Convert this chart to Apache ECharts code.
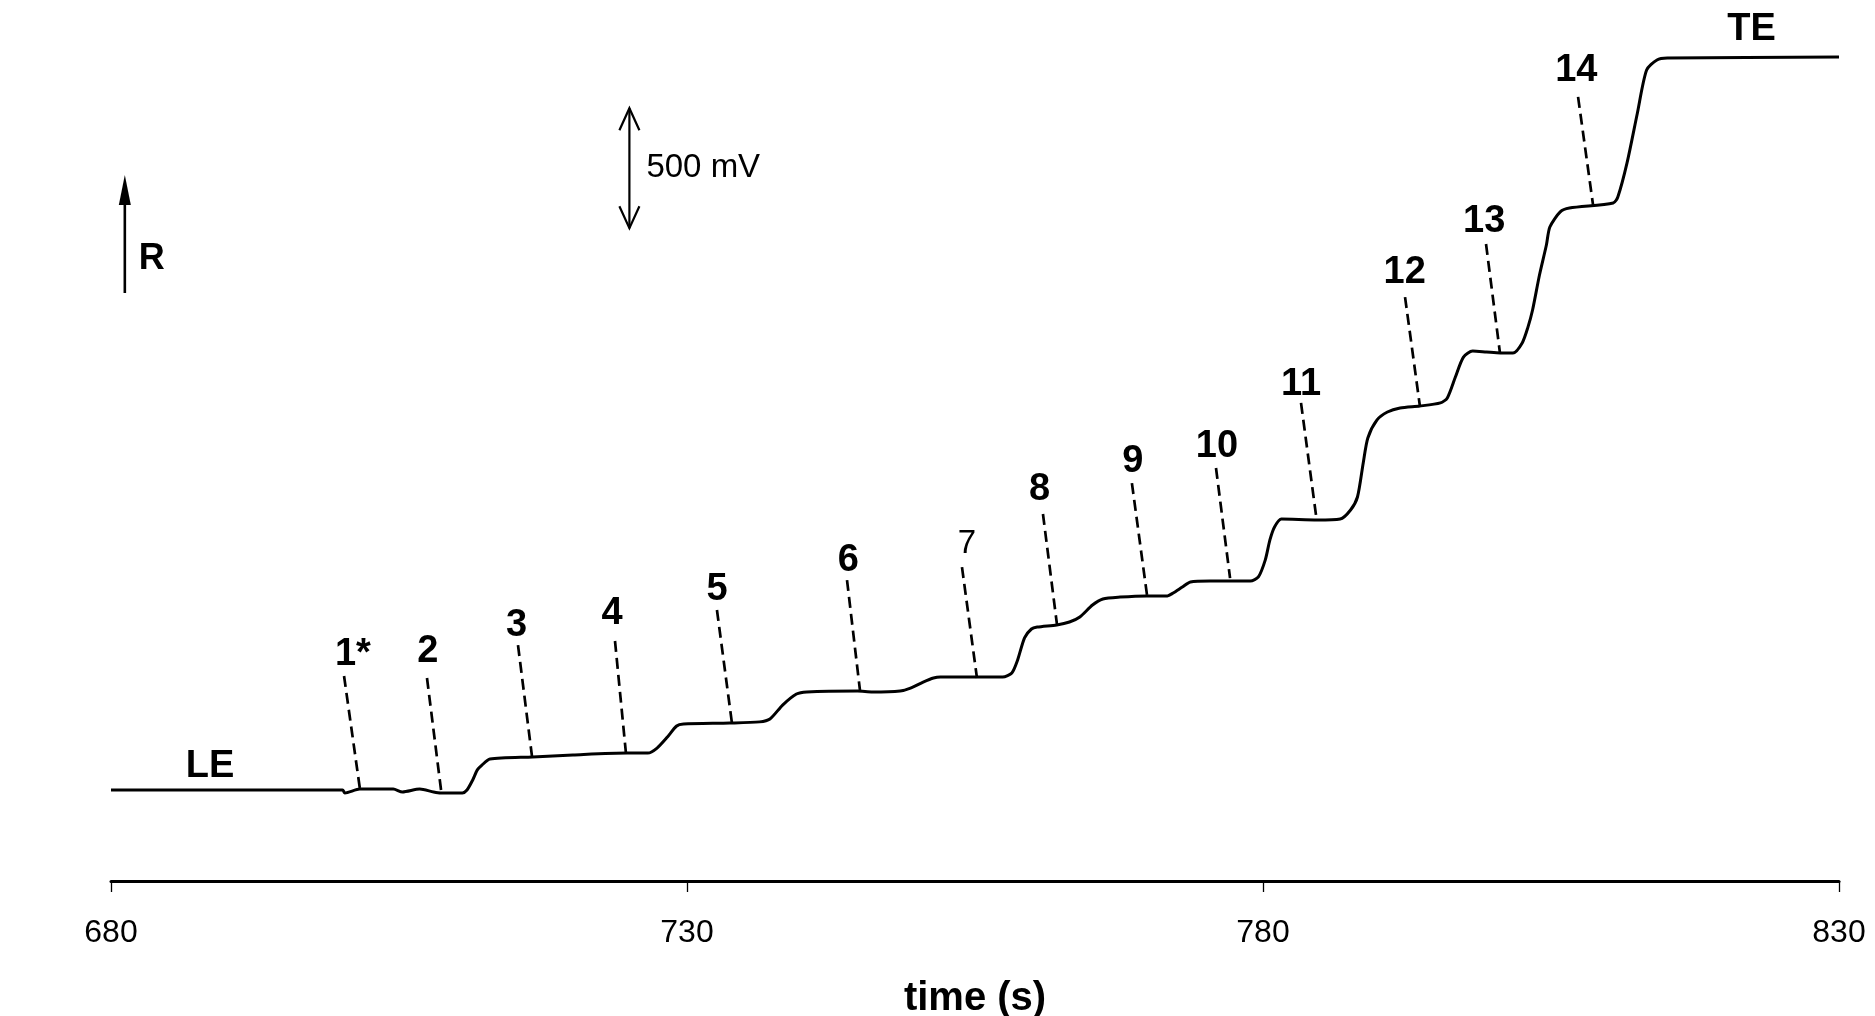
<!DOCTYPE html>
<html>
<head>
<meta charset="utf-8">
<script src="https://cdn.jsdelivr.net/npm/echarts@6/dist/echarts.min.js"></script>
<style>
html,body{margin:0;padding:0;background:#fff;}
#chart{width:1875px;height:1016px;}
</style>
</head>
<body>
<div id="chart"></div>
<script>
// ---- data (time in s, detector signal in mV, arbitrary offset) ----
const timeData = [680, 700.1, 700.3, 701.6, 704.5, 705.3, 706.8, 708.0, 708.6, 710.5, 710.9, 711.4, 711.8, 712.2, 712.9, 716.6, 720.1, 724.8, 726.6, 727.4, 728.3, 729.1, 729.7, 733.7, 736.3, 737.2, 738.3, 739.5, 740.4, 744.8, 746.1, 748.5, 749.4, 750.5, 751.4, 752.0, 757.4, 758.2, 758.7, 759.3, 759.9, 760.4, 762.1, 763.2, 764.1, 765.2, 766.1, 767.6, 769.9, 771.7, 772.2, 773.0, 773.7, 775.4, 778.9, 779.6, 780.2, 780.6, 781.0, 781.6, 784.7, 786.7, 787.6, 788.2, 788.7, 789.1, 789.9, 790.8, 791.9, 793.6, 795.4, 796.0, 796.7, 797.4, 798.2, 799.4, 800.6, 801.7, 802.5, 803.0, 803.4, 804.0, 804.6, 804.9, 805.8, 806.6, 810.4, 810.8, 811.6, 812.5, 813.3, 814.2, 815.1, 830];
const signalData = [379, 379, 367, 383, 383, 371, 383, 371, 367, 367, 379, 421, 463, 483, 508, 517, 525, 533, 533, 554, 600, 646, 654, 658, 663, 675, 733, 779, 788, 792, 788, 792, 804, 829, 846, 850, 850, 867, 921, 1013, 1050, 1058, 1067, 1079, 1100, 1150, 1175, 1183, 1188, 1188, 1200, 1225, 1246, 1250, 1250, 1267, 1338, 1421, 1475, 1508, 1504, 1508, 1546, 1600, 1742, 1846, 1921, 1954, 1971, 1979, 1992, 2013, 2100, 2183, 2208, 2204, 2200, 2200, 2242, 2308, 2379, 2525, 2650, 2725, 2788, 2804, 2825, 2850, 2992, 3200, 3379, 3421, 3429, 3433];

const zoneNames = ['1*', '2', '3', '4', '5', '6', '7', '8', '9', '10', '11', '12', '13', '14'];
const labelTime = [701.0, 707.5, 715.2, 723.5, 732.6, 744.0, 754.3, 760.6, 768.7, 776.0, 783.3, 792.3, 799.2, 807.2];
const labelSignal = [942, 955, 1063, 1113, 1213, 1334, 1405, 1630, 1746, 1809, 2067, 2534, 2746, 3376];
const leaderTopTime = [700.23, 707.43, 715.33, 723.75, 732.60, 743.89, 753.87, 760.90, 768.62, 775.92, 783.30, 792.33, 799.36, 807.35];
const leaderTopSignal = [854, 846, 983, 1000, 1129, 1254, 1308, 1529, 1658, 1721, 1992, 2433, 2654, 3267];
const leaderBottomTime = [701.61, 708.65, 716.55, 724.70, 733.89, 745.02, 755.17, 762.12, 769.93, 777.14, 784.60, 793.63, 800.57, 808.65];
const leaderBottomSignal = [383, 379, 517, 533, 662, 792, 846, 1067, 1192, 1262, 1525, 1975, 2200, 2817];

const electrolyteNames = ['LE', 'TE'];
const electrolyteTime = [688.6, 822.4];
const electrolyteSignal = [475, 3548];

const xTicks = [680, 730, 780, 830];
const scaleBarTime = 725.0, scaleBarFrom = 2720, scaleBarTo = 3220; // 500 mV
const rArrowTime = 681.2, rArrowFrom = 2450, rArrowTo = 2942;

// ---- chart ----
const FONT = 'Liberation Sans, Arial, sans-serif';
const chart = echarts.init(document.getElementById('chart'), null, {renderer: 'canvas'});

const trace = timeData.map((t, i) => [t, signalData[i]]);
const leaders = zoneNames.map((n, i) => ({
  coords: [[leaderTopTime[i], leaderTopSignal[i]], [leaderBottomTime[i], leaderBottomSignal[i]]]
}));
const textItems = zoneNames.map((n, i) => [labelTime[i], labelSignal[i], n])
  .concat(electrolyteNames.map((n, i) => [electrolyteTime[i], electrolyteSignal[i], n]));

chart.setOption({
  animation: false,
  backgroundColor: '#fff',
  grid: {left: 111, right: 36, top: 17, bottom: 135, outerBoundsMode: 'none', containLabel: false},
  xAxis: {
    type: 'value', min: xTicks[0], max: xTicks[xTicks.length - 1], interval: 50,
    name: 'time (s)', nameLocation: 'middle', nameGap: 98,
    nameTextStyle: {fontFamily: FONT, fontSize: 40, fontWeight: 'bold', color: '#000'},
    axisLine: {lineStyle: {color: '#000', width: 3}},
    axisTick: {show: true, inside: false, length: 11, lineStyle: {color: '#000', width: 1.3}},
    axisLabel: {fontFamily: FONT, fontSize: 32, color: '#000', margin: 36},
    splitLine: {show: false}
  },
  yAxis: {type: 'value', min: 0, max: 3600, show: false},
  series: [
    {
      type: 'line', data: trace, showSymbol: false, symbol: 'none',
      smooth: 0.25,
      lineStyle: {color: '#000', width: 3}, z: 3
    },
    {
      type: 'lines', coordinateSystem: 'cartesian2d', data: leaders,
      lineStyle: {color: '#000', width: 2.7, type: [11, 6], opacity: 1}, z: 2
    },
    {
      type: 'custom', data: textItems, z: 4,
      encode: {x: 0, y: 1},
      renderItem: function (params, api) {
        const p = api.coord([api.value(0), api.value(1)]);
        const txt = textItems[params.dataIndex][2];
        const plain = txt === '7';
        return {
          type: 'text', x: p[0], y: p[1],
          style: {
            text: txt, fill: '#000', align: 'center', verticalAlign: 'middle',
            fontFamily: FONT, fontSize: plain ? 33 : 38, fontWeight: plain ? 'normal' : 'bold'
          }
        };
      }
    }
  ]
});

// ---- annotation arrows placed through the chart's own scales ----
const sTop = chart.convertToPixel({gridIndex: 0}, [scaleBarTime, scaleBarTo]);
const sBot = chart.convertToPixel({gridIndex: 0}, [scaleBarTime, scaleBarFrom]);
const rTop = chart.convertToPixel({gridIndex: 0}, [rArrowTime, rArrowTo]);
const rBot = chart.convertToPixel({gridIndex: 0}, [rArrowTime, rArrowFrom]);
const lineStyle = {stroke: '#000', lineWidth: 2.2, fill: null};
const hw = 10, hl = 22;
chart.setOption({
  graphic: [
    {type: 'line', shape: {x1: sTop[0], y1: sTop[1], x2: sBot[0], y2: sBot[1]}, style: lineStyle},
    {type: 'polyline', shape: {points: [[sTop[0] - hw, sTop[1] + hl], [sTop[0], sTop[1]], [sTop[0] + hw, sTop[1] + hl]]}, style: lineStyle},
    {type: 'polyline', shape: {points: [[sBot[0] - hw, sBot[1] - hl], [sBot[0], sBot[1]], [sBot[0] + hw, sBot[1] - hl]]}, style: lineStyle},
    {type: 'text', x: sTop[0] + 17, y: (sTop[1] + sBot[1]) / 2, style: {text: '500 mV', fontFamily: FONT, fontSize: 33, fill: '#000', verticalAlign: 'middle', align: 'left'}},
    {type: 'line', shape: {x1: rTop[0], y1: rTop[1] + 20, x2: rBot[0], y2: rBot[1]}, style: {stroke: '#000', lineWidth: 2.6}},
    {type: 'polygon', shape: {points: [[rTop[0], rTop[1]], [rTop[0] - 6, rTop[1] + 30], [rTop[0] + 6, rTop[1] + 30]]}, style: {fill: '#000'}},
    {type: 'text', x: rTop[0] + 27, y: rBot[1] - 34, style: {text: 'R', fontFamily: FONT, fontSize: 36, fontWeight: 'bold', fill: '#000', verticalAlign: 'middle', align: 'center'}}
  ]
});
</script>
</body>
</html>
